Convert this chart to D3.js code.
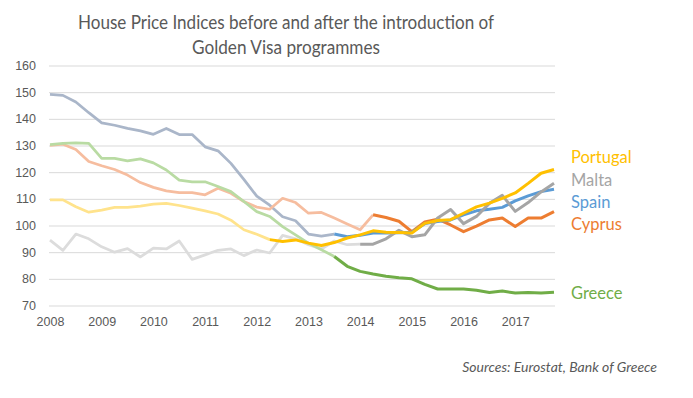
<!DOCTYPE html>
<html lang="en">
  <head>
    <meta charset="utf-8" />
    <title>House Price Indices</title>
    <style>
      body { margin: 0; background: #fff; }
      svg { display: block; font-family: Lato, "Open Sans", sans-serif; }
      .grid line { stroke: #d9d9d9; stroke-width: 1; }
      .tick text { fill: #595959; font-size: 12.5px; }
    </style>
  </head>
  <body>
    <svg id="chart" width="693" height="398"></svg>
    <script src="https://d3js.org/d3.v7.min.js"></script>
    <script>
      // quarterly house price index, 2008Q1 .. 2017Q4
      const years = [2008, 2009, 2010, 2011, 2012, 2013, 2014, 2015, 2016, 2017];
      const quarters = years.flatMap((y) => [1, 2, 3, 4].map((q) => y + "Q" + q));
      const yTicks = [70, 80, 90, 100, 110, 120, 130, 140, 150, 160];

      const countries = ["Portugal", "Malta", "Spain", "Cyprus", "Greece"];
      // quarter from which the solid (post programme) line is drawn
      const introQuarter = ["2012Q2", "2014Q1", "2013Q3", "2014Q2", "2013Q3"];

      const portugal = [109.6, 109.6, 107, 105, 105.8, 106.8, 106.8, 107.3, 108, 108.3, 107.5, 106.5, 105.5, 104.3, 102, 98.4, 96.7, 94.7, 94, 94.6, 93.4, 92.5, 93.6, 95.3, 96.5, 98, 97.5, 97.4, 97.2, 100.8, 101.9, 102.2, 104.6, 107, 108.4, 110.2, 112.2, 115.8, 119.6, 121];
      const malta = [94.5, 90.7, 96.8, 95, 92, 90, 91.3, 88.2, 91.5, 91.2, 94.2, 87.3, 89, 90.7, 91.2, 88.7, 90.8, 89.7, 96.3, 95, 92.8, 91.2, 94.2, 92.8, 93, 93, 95, 98.2, 95.8, 96.5, 102.8, 106, 100.7, 103.4, 108.3, 111.3, 105.3, 108.6, 112.6, 115.8];
      const spain = [149.2, 148.8, 146.3, 142.3, 138.5, 137.6, 136.4, 135.5, 134.2, 136.4, 134.1, 134.1, 129.5, 128, 123.3, 117.3, 111, 107.6, 103.3, 101.8, 96.8, 96, 96.8, 95.8, 96.3, 97.2, 97.2, 97.3, 97.5, 100.7, 101.5, 102.1, 104, 105.5, 106.1, 106.8, 109.2, 111.1, 112.7, 113.6];
      const cyprus = [130, 130.5, 128.5, 124, 122.4, 121, 118.9, 116.1, 114.3, 113, 112.3, 112.3, 111.5, 114, 112.1, 109, 106.9, 106.1, 110.2, 108.6, 104.6, 104.9, 102.8, 100.6, 98.4, 104, 103, 101.6, 97.7, 101.3, 102.4, 100.2, 97.7, 99.8, 102.1, 102.8, 99.6, 102.8, 102.8, 105.2];
      const greece = [130.3, 130.8, 131, 130.8, 125.2, 125.2, 124.2, 125, 123.5, 120.8, 117, 116.4, 116.4, 114.6, 112.7, 109, 105.2, 103.4, 99.6, 96.5, 93.4, 90.9, 88.4, 84.7, 82.8, 81.8, 81, 80.4, 80, 77.9, 76.2, 76.2, 76.2, 75.7, 74.9, 75.4, 74.7, 74.9, 74.7, 75];

      const values = [portugal, malta, spain, cyprus, greece];

      const solidColor = { Portugal: "#ffc000", Malta: "#a5a5a5", Spain: "#5b9bd5", Cyprus: "#ed7d31", Greece: "#70ad47" };
      const fadedColor = { Portugal: "#ffe38c", Malta: "#dcdcdc", Spain: "#aab6c9", Cyprus: "#f6bd9f", Greece: "#b9dba3" };
      const labelY = { Portugal: 157, Malta: 180, Spain: 202, Cyprus: 224, Greece: 293 };

      const svg = d3.select("#chart");
      const plotLeft = 50, plotRight = 554, plotTop = 65.5, plotBottom = 305.5;

      const x = d3.scalePoint().domain(quarters).range([plotLeft, plotRight]);
      const y = d3.scaleLinear().domain([70, 160]).range([plotBottom, plotTop]);

      // gridlines + y labels
      const yAxis = svg
        .append("g")
        .attr("class", "grid")
        .attr("transform", "translate(" + (plotLeft - 1) + ",0)")
        .call(d3.axisLeft(y).tickValues(yTicks).tickSize(-(plotRight - plotLeft + 2)).tickPadding(13));
      yAxis.select(".domain").remove();

      // x labels, one per year
      const xAxis = svg
        .append("g")
        .attr("transform", "translate(0," + (plotBottom + 1) + ")")
        .call(
          d3.axisBottom(x)
            .tickValues(quarters.filter((q) => q.endsWith("Q1")))
            .tickFormat((q) => q.slice(0, 4))
            .tickSize(0)
            .tickPadding(11)
        );
      xAxis.select(".domain").remove();

      const line = d3.line().x((d) => x(d.q)).y((d) => y(d.v));

      const series = countries.map((c, i) => {
        const pts = quarters.map((q, j) => ({ q: q, v: values[i][j] }));
        const k = quarters.indexOf(introQuarter[i]);
        return { name: c, before: pts.slice(0, k + 1), after: pts.slice(k) };
      });

      // faded part first, then the solid part on top
      svg.append("g").selectAll("path")
        .data(series)
        .join("path")
        .attr("d", (d) => line(d.before))
        .attr("fill", "none")
        .attr("stroke", (d) => fadedColor[d.name])
        .attr("stroke-width", 2.75)
        .attr("stroke-linejoin", "round");

      const drawOrder = ["Greece", "Cyprus", "Spain", "Malta", "Portugal"];
      svg.append("g").selectAll("path")
        .data(drawOrder.map((n) => series.find((s) => s.name === n)))
        .join("path")
        .attr("d", (d) => line(d.after))
        .attr("fill", "none")
        .attr("stroke", (d) => solidColor[d.name])
        .attr("stroke-width", 3)
        .attr("stroke-linejoin", "round");

      // labels at the right
      svg.append("g").selectAll("text")
        .data(countries)
        .join("text")
        .attr("x", 571)
        .attr("y", (d) => labelY[d])
        .attr("dy", "0.35em")
        .attr("fill", (d) => solidColor[d])
        .style("font-size", "16.5px")
        .text((d) => d);

      // title
      const title = svg.append("g").attr("fill", "#595959").style("font-size", "18.5px");
      title.append("text")
        .attr("x", 286).attr("y", 29).attr("text-anchor", "middle")
        .attr("textLength", 416).attr("lengthAdjust", "spacingAndGlyphs")
        .text("House Price Indices before and after the introduction of");
      title.append("text")
        .attr("x", 286).attr("y", 54).attr("text-anchor", "middle")
        .attr("textLength", 188).attr("lengthAdjust", "spacingAndGlyphs")
        .text("Golden Visa programmes");

      svg.append("text")
        .attr("x", 657).attr("y", 372).attr("text-anchor", "end")
        .attr("fill", "#595959")
        .style("font-size", "14px").style("font-style", "italic")
        .text("Sources: Eurostat, Bank of Greece");
    </script>
  </body>
</html>
